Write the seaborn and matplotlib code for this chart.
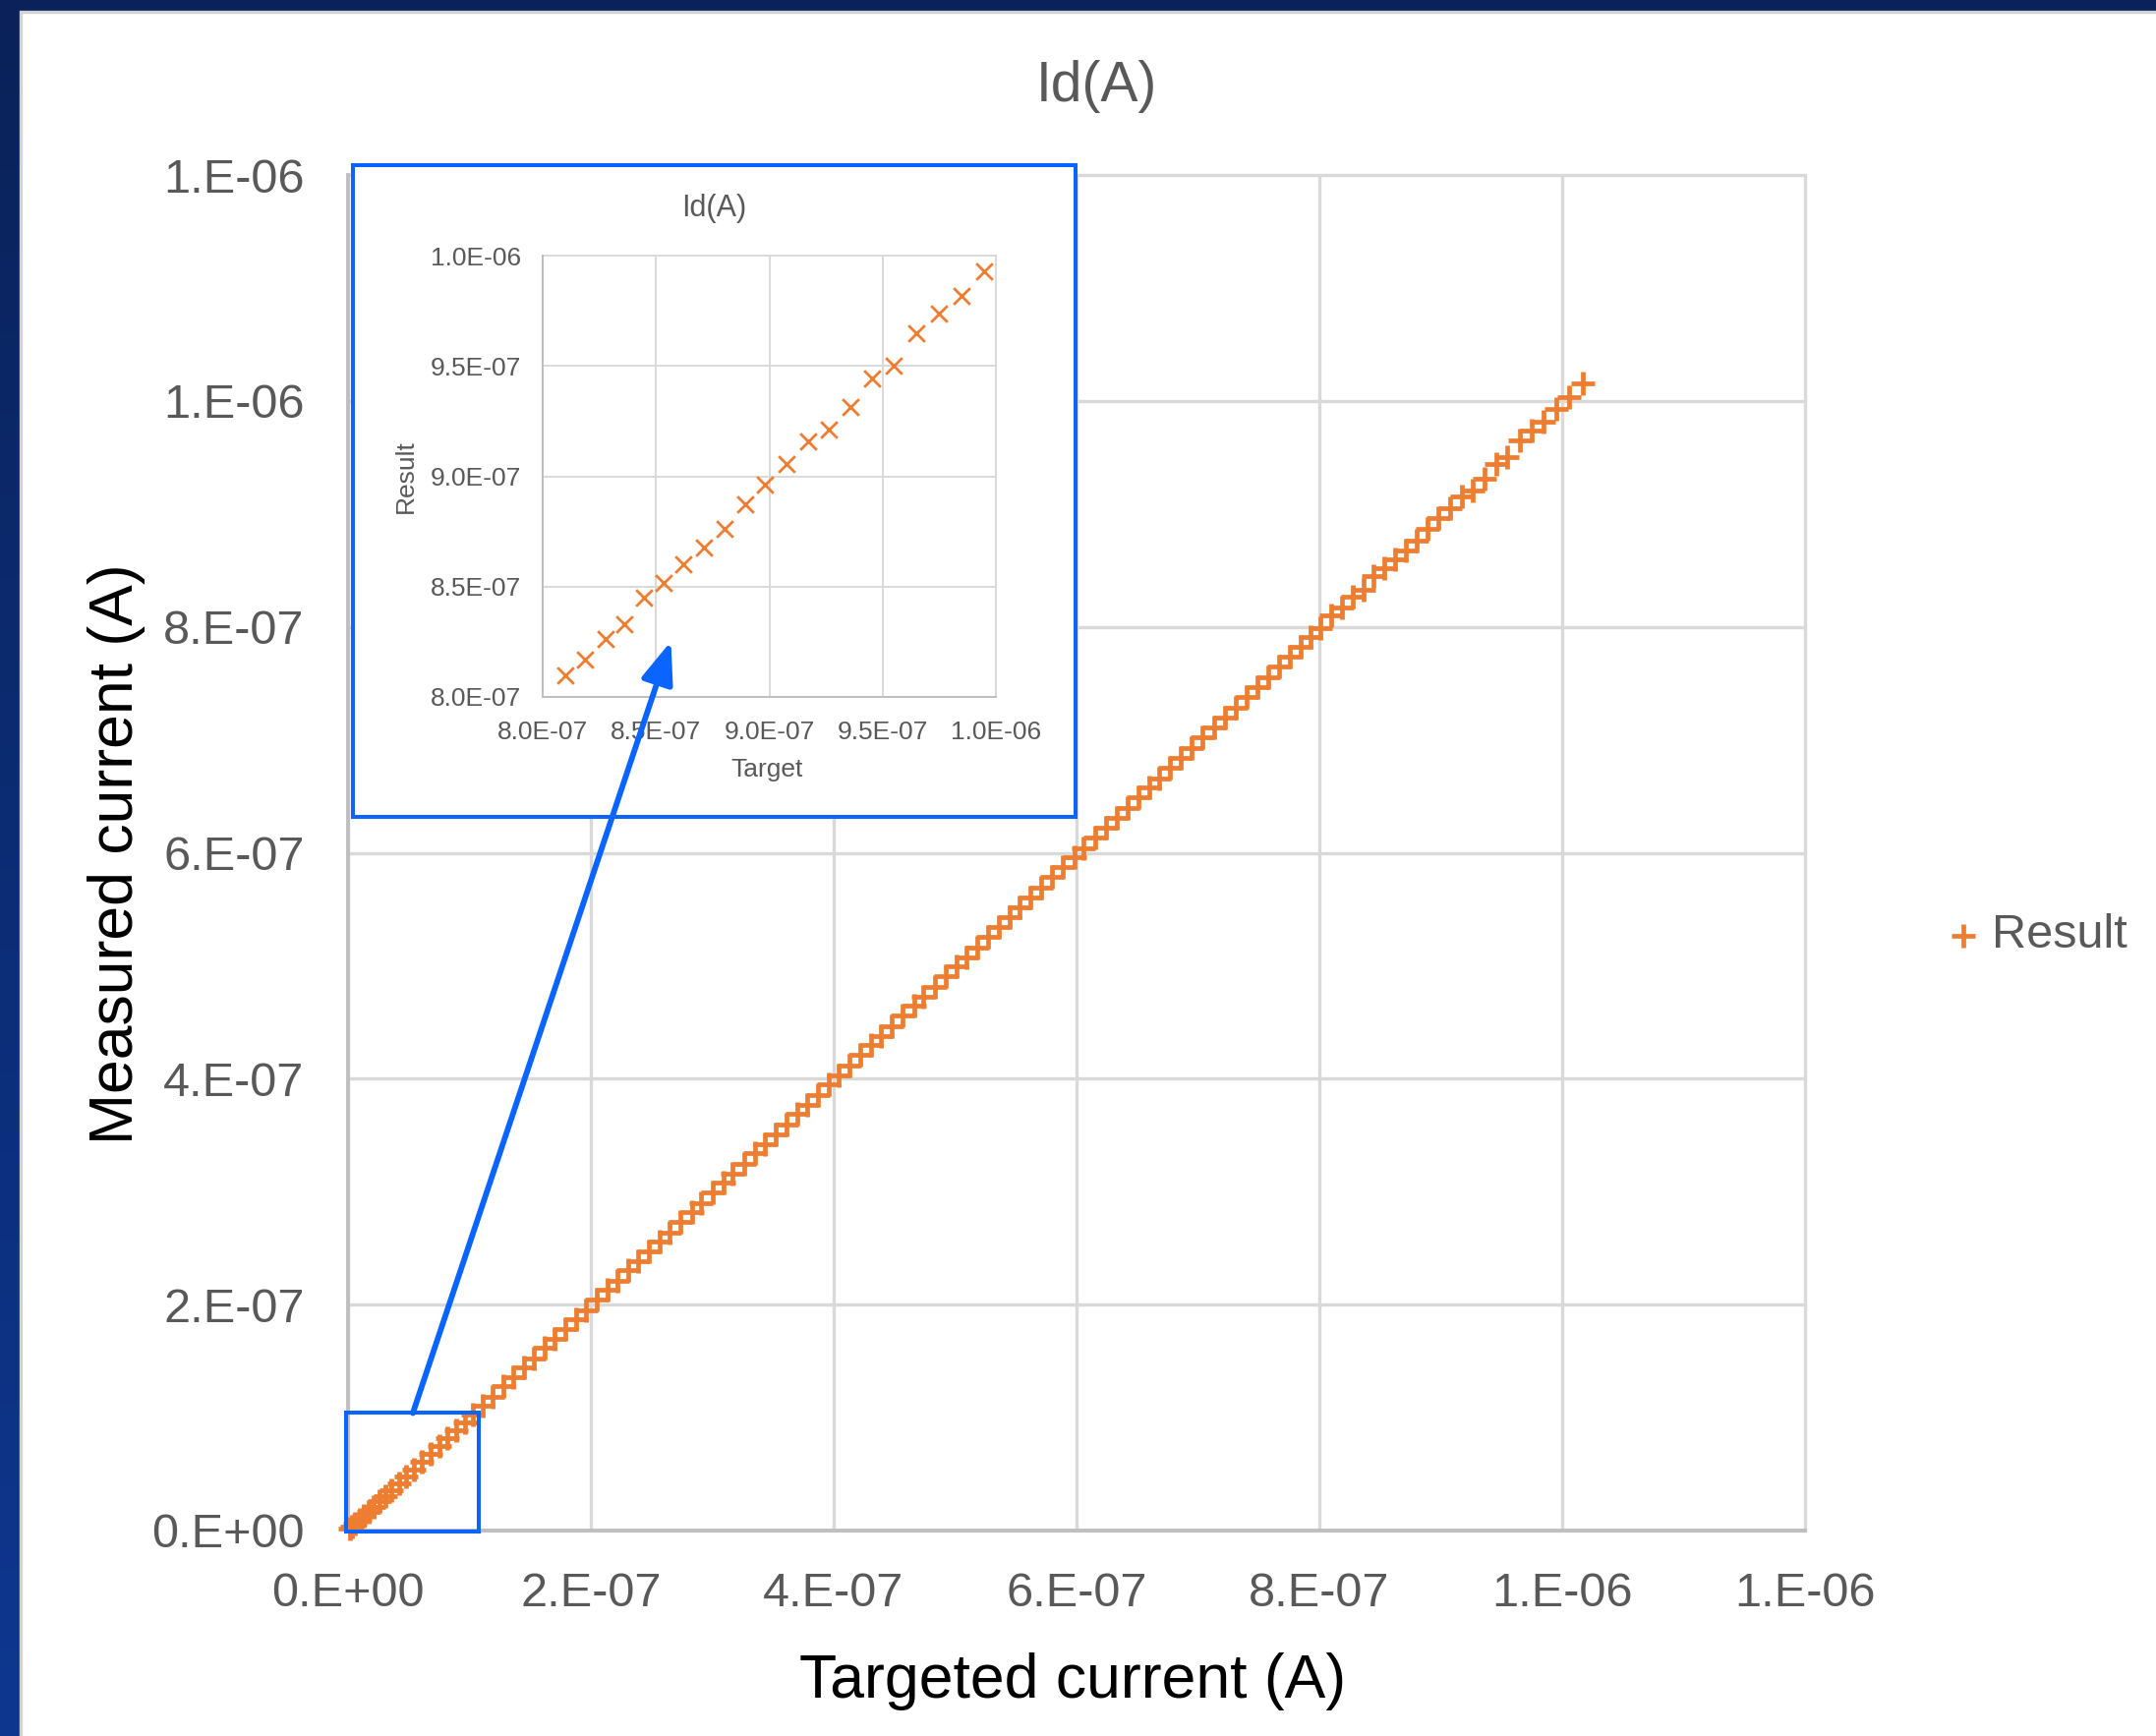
import numpy as np
import pandas as pd
import matplotlib
matplotlib.use("Agg")
import matplotlib.pyplot as plt
import seaborn as sns
from matplotlib.patches import Rectangle, ConnectionPatch
from matplotlib.ticker import FixedLocator, MultipleLocator
from matplotlib.colors import LinearSegmentedColormap

# ---------------- data (nA) ----------------
target_nA = [
    1.5, 3.5, 6, 9.5, 13, 17, 21, 26, 31, 36, 42, 48, 54, 61, 68, 75, 82, 89, 96, 103,
    111, 119, 128, 136, 145, 153, 162, 170, 179, 188, 196, 205, 214, 222, 231, 239, 248,
    257, 265, 274, 283, 291, 300, 309, 317, 326, 335, 343, 352, 361, 370, 378, 387, 396,
    404, 413, 422, 431, 439, 448, 457, 466, 474, 483, 492, 501, 509, 518, 527, 536, 545,
    553, 562, 571, 580, 589, 598, 606, 615, 624, 633, 642, 651, 660, 668, 677, 686, 695,
    704, 713, 722, 731, 740, 749, 758, 767, 776, 785, 793, 801,
    810.1, 818.8, 827.6, 836.1, 844.7, 853.3, 862.0, 871.1, 880.3, 889.4, 898.0, 907.8,
    917.1, 926.3, 935.9, 945.4, 954.9, 964.8, 974.7, 984.9, 994.8, 1005.5, 1017.0,
]
measured_nA = [
    1.4, 3.3, 5.9, 9.4, 12.9, 16.9, 20.9, 25.9, 30.8, 35.9, 41.8, 47.8, 53.8, 60.8, 67.8, 74.7, 81.8, 88.7, 95.7, 102.6,
    110.6, 118.6, 127.5, 135.6, 144.5, 152.4, 161.6, 169.4, 178.4, 187.5, 195.3, 204.2, 213.5, 221.2, 230.4, 238.1, 247.3,
    256.2, 264.0, 273.2, 282.1, 290.2, 299.0, 308.1, 316.0, 325.0, 334.1, 341.9, 351.0, 359.8, 368.9, 376.8, 385.9, 394.7,
    402.8, 411.7, 420.8, 429.6, 437.7, 446.6, 455.6, 464.5, 472.6, 481.5, 490.5, 499.4, 507.5, 516.4, 525.4, 534.3, 543.4,
    551.3, 560.3, 569.2, 578.3, 587.2, 596.2, 604.1, 613.2, 622.0, 631.1, 640.0, 649.0, 658.0, 665.9, 674.9, 683.9, 692.8,
    701.9, 710.8, 719.8, 728.7, 737.7, 746.6, 755.6, 764.6, 773.6, 782.5, 790.6, 798.6,
    809.8, 817.1, 826.4, 833.1, 845.1, 851.8, 860.1, 867.8, 876.3, 887.1, 896.1, 905.4,
    915.8, 921.0, 931.4, 944.1, 950.3, 964.7, 973.8, 981.9, 992.7, 1003.5, 1015.6,
]

main_ticks = [0.0, 2e-7, 4e-7, 6e-7, 8e-7, 1.0e-6, 1.2e-6]
main_tick_labels = ["0.E+00", "2.E-07", "4.E-07", "6.E-07", "8.E-07", "1.E-06", "1.E-06"]
inset_ticks = [8.0e-7, 8.5e-7, 9.0e-7, 9.5e-7, 1.0e-6]
inset_tick_labels = ["8.0E-07", "8.5E-07", "9.0E-07", "9.5E-07", "1.0E-06"]

title = "Id(A)"
xlabel = "Targeted current (A)"
ylabel = "Measured current (A)"
inset_xlabel = "Target"
inset_ylabel = "Result"
series_name = "Result"

df = pd.DataFrame({"Target": np.array(target_nA) * 1e-9,
                   "Result": np.array(measured_nA) * 1e-9})

ORANGE = "#ED7D31"
BLUE = "#0A64FF"
GRID = "#d9d9d9"
SPINE = "#bfbfbf"
TXT = "#595959"

sns.set_theme(style="white")
plt.rcParams["font.family"] = ["Liberation Sans", "DejaVu Sans"]

W, H = 2193, 1766
fig = plt.figure(figsize=(W / 100, H / 100), dpi=100)

# ---------------- background (navy frame + white panel) ----------------
bg = fig.add_axes([0, 0, 1, 1], zorder=-10)
grad = np.linspace(0, 1, 256).reshape(-1, 1)
cmap = LinearSegmentedColormap.from_list("nav", ["#0a2259", "#0e3790"])
bg.imshow(grad, aspect="auto", cmap=cmap, extent=[0, W, H, 0])
bg.add_patch(Rectangle((21, 12), W + 10, H + 10, facecolor="white",
                       edgecolor="#d2d2d2", lw=2.4))
bg.set_xlim(0, W)
bg.set_ylim(H, 0)
bg.axis("off")

# ---------------- main axes ----------------
ax = fig.add_axes([354 / W, 1 - 1557 / H, 1482 / W, 1379 / H], zorder=1)
ax.set_facecolor("white")
sns.scatterplot(data=df, x="Target", y="Result", marker="+", s=17 ** 2,
                linewidth=3.4, color=ORANGE, ax=ax, label=series_name,
                zorder=3, clip_on=False)
ax.set_xlim(0, 1.2e-6)
ax.set_ylim(0, 1.2e-6)
ax.xaxis.set_major_locator(FixedLocator(main_ticks))
ax.yaxis.set_major_locator(FixedLocator(main_ticks))
ax.set_xticklabels(main_tick_labels)
ax.set_yticklabels(main_tick_labels)
ax.xaxis.set_minor_locator(MultipleLocator(4e-8))
ax.yaxis.set_minor_locator(MultipleLocator(4e-8))
ax.set_axisbelow(True)
ax.grid(True, which="major", color=GRID, lw=2.4)
for l in ax.get_xgridlines() + ax.get_ygridlines():
    l.set_clip_on(False)
for s in ["top", "right"]:
    ax.spines[s].set_visible(False)
for s in ["left", "bottom"]:
    ax.spines[s].set_color(SPINE)
    ax.spines[s].set_linewidth(2.8)
ax.tick_params(which="both", direction="in", color=SPINE, width=2.2,
               labelsize=35, labelcolor=TXT)
ax.tick_params(which="major", length=11)
ax.tick_params(which="minor", length=7)
ax.tick_params(axis="x", which="major", pad=30)
ax.tick_params(axis="y", which="major", pad=32)
ax.set_xlabel("")
ax.set_ylabel("")
ax.legend(loc="center left", bbox_to_anchor=(1978 / W, 1 - 952 / H),
          bbox_transform=fig.transFigure, frameon=False, fontsize=35,
          handlelength=0.8, handletextpad=0.18, borderpad=0, borderaxespad=0,
          labelcolor=TXT)

fig.text(1115 / W, 1 - 88 / H, title, ha="center", va="center",
         fontsize=41, color=TXT)
fig.text(1091 / W, 1 - 1710 / H, xlabel, ha="center", va="center",
         fontsize=45, color="black")
fig.text(119 / W, 1 - 869 / H, ylabel, ha="center", va="center",
         rotation=90, fontsize=45, color="black")

# small highlight box on the main chart
ax.add_patch(Rectangle((-0.2e-8, -0.1e-8), 1.1e-7, 1.05e-7, fill=False,
                       edgecolor=BLUE, lw=2.9, clip_on=False, zorder=5))

# ---------------- inset frame ----------------
fr = fig.add_axes([359 / W, 1 - 831 / H, 735 / W, 663 / H], zorder=2)
fr.set_facecolor("white")
fr.set_xticks([])
fr.set_yticks([])
for sp in fr.spines.values():
    sp.set_color(BLUE)
    sp.set_linewidth(2.9)
    sp.set_visible(True)

# ---------------- inset axes ----------------
ins = fig.add_axes([552 / W, 1 - 709 / H, 461 / W, 449 / H], zorder=3)
ins.set_facecolor("white")
sub = df[(df["Target"] >= 8e-7) & (df["Target"] <= 1e-6) &
         (df["Result"] >= 8e-7) & (df["Result"] <= 1e-6)]
sns.scatterplot(data=sub, x="Target", y="Result", marker="x", s=12 ** 2,
                linewidth=2.0, color=ORANGE, ax=ins, legend=False, zorder=3)
ins.set_xlim(8e-7, 1e-6)
ins.set_ylim(8e-7, 1e-6)
ins.xaxis.set_major_locator(FixedLocator(inset_ticks))
ins.yaxis.set_major_locator(FixedLocator(inset_ticks))
ins.set_xticklabels(inset_tick_labels)
ins.set_yticklabels(inset_tick_labels)
ins.xaxis.set_minor_locator(MultipleLocator(1e-8))
ins.yaxis.set_minor_locator(MultipleLocator(1e-8))
ins.set_axisbelow(True)
ins.grid(True, which="major", color=GRID, lw=1.4)
for l in ins.get_xgridlines() + ins.get_ygridlines():
    l.set_clip_on(False)
for s in ["top", "right"]:
    ins.spines[s].set_visible(False)
for s in ["left", "bottom"]:
    ins.spines[s].set_color(SPINE)
    ins.spines[s].set_linewidth(1.4)
ins.tick_params(which="both", direction="in", color=SPINE, width=1.2,
                labelsize=19, labelcolor=TXT)
ins.tick_params(which="major", length=6)
ins.tick_params(which="minor", length=5)
ins.tick_params(axis="x", which="major", pad=17)
ins.tick_params(axis="y", which="major", pad=16)
ins.set_xlabel("")
ins.set_ylabel("")

fig.text(726 / W, 1 - 212 / H, title, ha="center", va="center",
         fontsize=22, color=TXT)
fig.text(780 / W, 1 - 783 / H, inset_xlabel, ha="center", va="center",
         fontsize=19, color=TXT)
fig.text(413 / W, 1 - 485 / H, inset_ylabel, ha="center", va="center",
         rotation=90, fontsize=19, color=TXT)

# ---------------- arrow from the box to the inset ----------------
con = ConnectionPatch(xyA=(5.34e-8, 1.04e-7), coordsA=ax.transData,
                      xyB=(8.566e-7, 8.252e-7), coordsB=ins.transData,
                      arrowstyle="-|>,head_length=2.6,head_width=1.0",
                      mutation_scale=10, color=BLUE, lw=4.2,
                      shrinkA=0, shrinkB=0)
con.set_zorder(10)
fig.add_artist(con)

fig.savefig("out.png", dpi=100)
